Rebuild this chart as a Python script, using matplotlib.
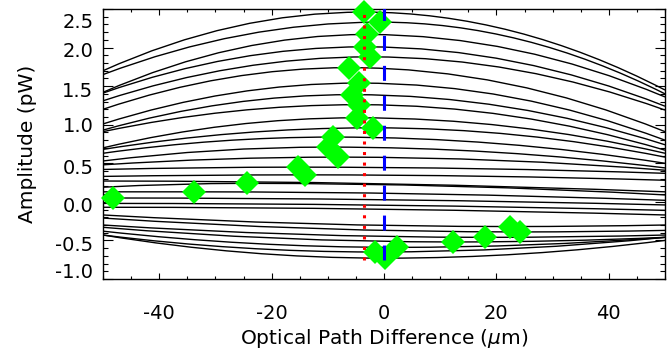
import numpy as np
import matplotlib
matplotlib.use("Agg")
import matplotlib.pyplot as plt
from matplotlib.path import Path
from matplotlib.patches import PathPatch
from matplotlib.ticker import MultipleLocator
from matplotlib.transforms import ScaledTranslation

plt.rcParams['font.family'] = ['DejaVu Sans']
plt.rcParams['axes.unicode_minus'] = False

# scan envelopes: centre, peak, value at left edge (-50), value at right edge (+50)
curve_x0 = [-3.6, -0.7, -3.0, -3.4, -2.5, -6.2, -4.4, -5.7, -4.4, -4.8, -2.0,
            -9.1, -10.0, -8.2, -15.3, -14.0, -24.4, -33.8, -48.2,
            -50.0, -50.0, -50.0,
            -1.6, 0.2, 2.3, 12.3, 18.0, 22.4, 24.2]
curve_peak = [2.46, 2.33, 2.17, 2.01, 1.88, 1.74, 1.54, 1.39, 1.26, 1.09, 0.96,
              0.84, 0.71, 0.58, 0.45, 0.35, 0.24, 0.13, 0.05,
              0.27, -0.02, -0.07,
              -0.65, -0.73, -0.59, -0.52, -0.46, -0.32, -0.39]
curve_left = [1.70, 1.65, 1.42, 1.41, 1.31, 1.20, 1.01, 0.93, 0.91, 0.70, 0.68,
              0.63, 0.53, 0.48, 0.42, 0.33, 0.19, 0.13, 0.05,
              0.27, -0.02, -0.07,
              -0.43, -0.43, -0.38, -0.33, -0.30, -0.17, -0.21]
curve_right = [1.45, 1.40, 1.36, 1.24, 1.19, 0.91, 0.80, 0.74, 0.67, 0.63, 0.58,
               0.50, 0.44, 0.41, 0.37, 0.28, 0.09, 0.02, -0.04,
               0.13, -0.11, -0.17,
               -0.46, -0.50, -0.46, -0.46, -0.43, -0.30, -0.37]

# fitted peak positions (green diamonds)
peak_opd = [-3.6, -0.7, -3.0, -3.4, -2.5, -6.2, -4.4, -5.7, -4.4, -4.8, -2.0,
            -9.1, -10.0, -8.2, -15.3, -14.0, -24.4, -33.8, -48.2,
            -1.6, 0.2, 2.3, 12.3, 18.0, 22.4, 24.2]
peak_amp = [2.46, 2.33, 2.17, 2.01, 1.88, 1.74, 1.54, 1.39, 1.26, 1.09, 0.96,
            0.84, 0.71, 0.58, 0.45, 0.35, 0.24, 0.13, 0.05,
            -0.65, -0.73, -0.59, -0.52, -0.46, -0.32, -0.39]

mean_opd = -3.6     # red dotted
zero_opd = 0.0      # blue dashed
vline_bottom = -0.76

xmin, xmax = -50, 50
ymin, ymax = -1.0, 2.5

fig = plt.figure(figsize=(6.72, 3.58), dpi=100)
ax = fig.add_axes([103 / 672, 79 / 358, 562 / 672, 270 / 358])

for x0, p, yl, yr in zip(curve_x0, curve_peak, curve_left, curve_right):
    verts = [(xmin, yl), ((xmin + x0) / 2, p), (x0, p),
             ((x0 + xmax) / 2, p), (xmax, yr)]
    codes = [Path.MOVETO, Path.CURVE3, Path.CURVE3, Path.CURVE3, Path.CURVE3]
    ax.add_patch(PathPatch(Path(verts, codes), fill=False, edgecolor="black",
                           linewidth=1.0, zorder=2))

ax.plot(peak_opd, peak_amp, linestyle="", marker="D", markersize=12,
        color="#00ff00", markeredgewidth=0, zorder=3, clip_on=False)

ax.plot([mean_opd, mean_opd], [vline_bottom, ymax + 0.1], color="red",
        linewidth=2.2, dashes=(1, 2.45), zorder=4)
ax.plot([zero_opd, zero_opd], [vline_bottom, ymax + 0.1], color="blue",
        linewidth=2.2, dashes=(4.9, 4.9), zorder=4)

ax.set_xlim(xmin, xmax)
ax.set_ylim(ymin, ymax)

ax.set_xticks([-40, -20, 0, 20, 40])
ax.xaxis.set_minor_locator(MultipleLocator(5))
ax.set_yticks(np.arange(-1.0, 2.51, 0.5))
ax.set_yticklabels(["%.1f" % v for v in np.arange(-1.0, 2.51, 0.5)])
ax.yaxis.set_minor_locator(MultipleLocator(0.1))

ax.tick_params(axis="both", which="both", direction="in", top=True,
               right=True, colors="black", labelsize=14)
ax.tick_params(axis="x", which="major", length=4, width=0.8, pad=18)
ax.tick_params(axis="x", which="minor", length=2.5, width=0.8)
ax.tick_params(axis="y", which="major", length=7, width=0.8, pad=7)
ax.tick_params(axis="y", which="minor", length=3.6, width=0.8)

# nudge end labels the way the original places them
shifts = [8, -3, -3, -3, 0, -3, -2, -12]
for tick, dy in zip(ax.yaxis.get_major_ticks(), shifts):
    tick.label1.set_transform(tick.label1.get_transform()
                              + ScaledTranslation(0, dy / 100, fig.dpi_scale_trans))

for s in ax.spines.values():
    s.set_linewidth(1.0)

ax.set_xlabel(r"Optical Path Difference ($\mu$m)", fontsize=14.5, labelpad=3)
ax.set_ylabel("Amplitude (pW)", fontsize=14.5, labelpad=13)

fig.savefig("out.png", dpi=100)
